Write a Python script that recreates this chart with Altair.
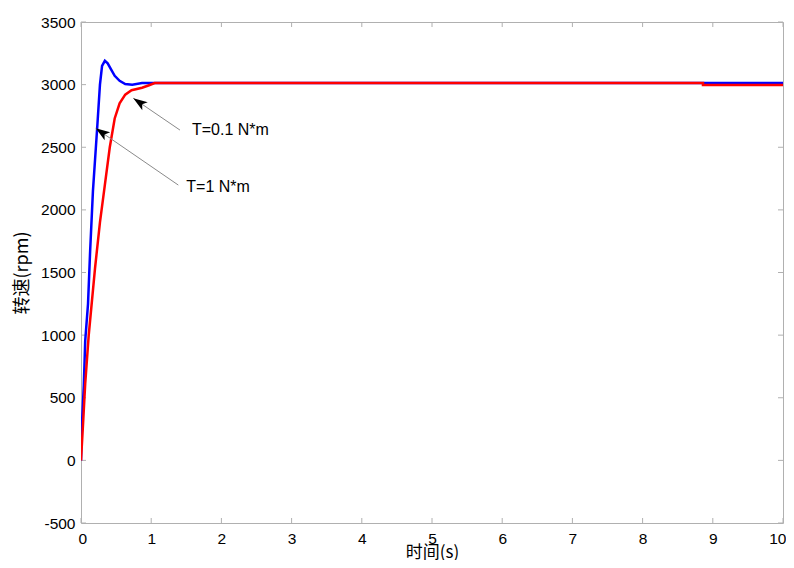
import altair as alt
import pandas as pd

# Speed response for T=0.1 N*m (blue)
t_blue = [0, 0.01, 0.04, 0.06, 0.10, 0.13, 0.17, 0.20, 0.23, 0.27, 0.30, 0.34, 0.38, 0.43, 0.48, 0.55, 0.63, 0.73, 0.87, 10]
v_blue = [0, 250, 600, 955, 1250, 1670, 2150, 2400, 2650, 3000, 3150, 3190, 3170, 3120, 3070, 3030, 3005, 3000, 3012, 3012]

# Speed response for T=1 N*m (red)
t_red = [0, 0.03, 0.06, 0.11, 0.20, 0.27, 0.34, 0.41, 0.48, 0.55, 0.63, 0.72, 0.87, 0.97, 1.05, 8.86, 8.86, 10]
v_red = [0, 300, 612, 1000, 1535, 1900, 2200, 2500, 2730, 2850, 2920, 2955, 2975, 2995, 3012, 3012, 2998, 2998]

x_ticks = list(range(0, 11))
y_ticks = list(range(-500, 3501, 500))

# annotations
ann_text = ["T=0.1 N*m", "T=1 N*m"]
ann_text_t = [1.58, 1.50]
ann_text_v = [2637, 2184]
ann_tail_t = [1.41, 1.386]
ann_tail_v = [2637, 2198]
ann_head_t = [0.745, 0.21]
ann_head_v = [2891, 2651]
ann_angle = [304, 304.5]

W, H = 702, 501
xs = alt.Scale(domain=[0, 10], nice=False)
ys = alt.Scale(domain=[-500, 3500], nice=False)

df_b = pd.DataFrame({"t": t_blue, "v": v_blue, "o": range(len(t_blue))})
df_r = pd.DataFrame({"t": t_red, "v": v_red, "o": range(len(t_red))})
df_xt = pd.DataFrame({"t": x_ticks})
df_yt = pd.DataFrame({"v": y_ticks})
df_a = pd.DataFrame({"label": ann_text, "tt": ann_text_t, "tv": ann_text_v,
                     "t1": ann_tail_t, "v1": ann_tail_v,
                     "t2": ann_head_t, "v2": ann_head_v, "ang": ann_angle})

FONT = "Liberation Sans"
CJK = "Noto Sans CJK SC"

blue = alt.Chart(df_b).mark_line(color="#0000FF", strokeWidth=2.5, clip=True).encode(
    x=alt.X("t:Q", scale=xs,
            axis=alt.Axis(values=x_ticks, title="时间(s)", titleFont=CJK, titleFontSize=17,
                          titleFontWeight="normal", titleColor="#000",
                          titleY=34, titleBaseline="alphabetic",
                          labelFont=FONT, labelFontSize=15.5, labelColor="#000",
                          labelExpr="'' + datum.value", labelFlush=True, labelFlushOffset=3,
                          labelOverlap=False,
                          labelPadding=8, ticks=False, domain=False, grid=False)),
    y=alt.Y("v:Q", scale=ys,
            axis=alt.Axis(values=y_ticks, title="转速(rpm)", titleFont=CJK, titleFontSize=18,
                          titleFontWeight="normal", titleColor="#000", titlePadding=9,
                          labelFont=FONT, labelFontSize=15.5, labelColor="#000",
                          labelExpr="'' + datum.value", labelFlush=False, labelOverlap=False,
                          labelPadding=6, ticks=False, domain=False, grid=False)),
    order="o:Q",
)
red = alt.Chart(df_r).mark_line(color="#FF0000", strokeWidth=2.5, clip=True).encode(
    x=alt.X("t:Q", scale=xs), y=alt.Y("v:Q", scale=ys), order="o:Q"
)

tick_color = "#b0b0b0"
xt_bot = alt.Chart(df_xt).mark_rule(color=tick_color, strokeWidth=1).encode(
    x=alt.X("t:Q", scale=xs), y=alt.value(H), y2=alt.value(H - 5))
xt_top = alt.Chart(df_xt).mark_rule(color=tick_color, strokeWidth=1).encode(
    x=alt.X("t:Q", scale=xs), y=alt.value(0), y2=alt.value(5))
yt_left = alt.Chart(df_yt).mark_rule(color=tick_color, strokeWidth=1).encode(
    y=alt.Y("v:Q", scale=ys), x=alt.value(0), x2=alt.value(5))
yt_right = alt.Chart(df_yt).mark_rule(color=tick_color, strokeWidth=1).encode(
    y=alt.Y("v:Q", scale=ys), x=alt.value(W), x2=alt.value(W - 5))

ann_line = alt.Chart(df_a).mark_rule(color="#8a8a8a", strokeWidth=1).encode(
    x=alt.X("t1:Q", scale=xs), y=alt.Y("v1:Q", scale=ys),
    x2="t2:Q", y2="v2:Q")
ann_head = alt.Chart(df_a).mark_point(
    shape="M0,0L-0.5,1.45L0,1.1L0.5,1.45Z", filled=True, color="#000", opacity=1,
    size=380, strokeWidth=0).encode(
    x=alt.X("t2:Q", scale=xs), y=alt.Y("v2:Q", scale=ys), angle=alt.Angle("ang:Q", scale=None))
ann_txt = alt.Chart(df_a).mark_text(align="left", baseline="middle", font=FONT,
                                    fontSize=16, color="#000").encode(
    x=alt.X("tt:Q", scale=xs), y=alt.Y("tv:Q", scale=ys), text="label:N")

chart = alt.layer(xt_bot, xt_top, yt_left, yt_right, blue, red, ann_line, ann_head, ann_txt).properties(
    width=W, height=H,
    autosize=alt.AutoSizeParams(type="none"),
    padding={"left": 73, "top": 14, "right": 3, "bottom": 37},
    background="white",
).configure_view(stroke="#b0b0b0", strokeWidth=1)

chart.save("out.html", embed_options={"renderer": "svg", "actions": False})
